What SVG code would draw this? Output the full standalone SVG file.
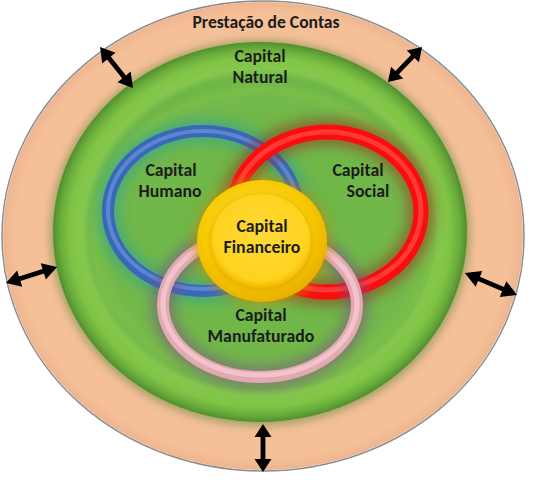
<svg xmlns="http://www.w3.org/2000/svg" width="533" height="484" viewBox="0 0 533 484">
<defs>
<style>
.t{font-family:Carlito,Calibri,"Liberation Sans",Arial,sans-serif;font-weight:bold;font-size:17.8px;fill:#1c1c1c;text-anchor:middle}
.arr{fill:#000}
</style>
<filter id="b2" x="-20%" y="-20%" width="140%" height="140%"><feGaussianBlur stdDeviation="2"/></filter>
<filter id="b4" x="-20%" y="-20%" width="140%" height="140%"><feGaussianBlur stdDeviation="4"/></filter>
<filter id="b6" x="-30%" y="-30%" width="160%" height="160%"><feGaussianBlur stdDeviation="6"/></filter>
<radialGradient id="peach" cx="0.5" cy="0.5" r="0.5">
<stop offset="0" stop-color="#f6c29c"/>
<stop offset="0.95" stop-color="#f5bf98"/>
<stop offset="1" stop-color="#eeb690"/>
</radialGradient>
<radialGradient id="green" cx="0.5" cy="0.5" r="0.5">
<stop offset="0" stop-color="#6db447"/>
<stop offset="0.82" stop-color="#70b749"/>
<stop offset="0.86" stop-color="#86c74d"/>
<stop offset="0.92" stop-color="#80c445"/>
<stop offset="0.965" stop-color="#6aac3c"/>
<stop offset="1" stop-color="#4f8f2d"/>
</radialGradient>
<radialGradient id="inner" cx="0.5" cy="0.5" r="0.5">
<stop offset="0" stop-color="#6cb447"/>
<stop offset="0.9" stop-color="#72b84b"/>
<stop offset="1" stop-color="#7cbf4a"/>
</radialGradient>
<radialGradient id="gold" cx="0.45" cy="0.4" r="0.6">
<stop offset="0" stop-color="#ffe04a"/>
<stop offset="0.7" stop-color="#f7c900"/>
<stop offset="1" stop-color="#e9b000"/>
</radialGradient>
<radialGradient id="goldIn" cx="0.5" cy="0.45" r="0.55">
<stop offset="0" stop-color="#ffd93a"/>
<stop offset="0.85" stop-color="#ffd21e"/>
<stop offset="1" stop-color="#f0b800"/>
</radialGradient>
<path id="dbl" class="arr" d="M-26,0 L-12,-8.5 L-12,-2.4 L12,-2.4 L12,-8.5 L26,0 L12,8.5 L12,2.4 L-12,2.4 L-12,8.5 Z"/>
</defs>

<rect width="533" height="484" fill="#fff"/>

<g id="prestacao">
<ellipse cx="263" cy="236" rx="261" ry="235" fill="none" stroke="#8c8c8c" stroke-width="1.5"/>
<ellipse cx="263" cy="236" rx="260" ry="234" fill="url(#peach)"/>
<text class="t" x="266" y="28" style="font-size:17.6px">Prestação de Contas</text>
</g>

<g id="natural">
<ellipse cx="260" cy="233" rx="210" ry="193" fill="#3f7a25" opacity="0.45" filter="url(#b4)"/>
<ellipse cx="260" cy="232" rx="207" ry="190" fill="url(#green)"/>
<ellipse cx="262" cy="236" rx="172" ry="150" fill="url(#inner)" filter="url(#b2)"/>
<text class="t" x="260" y="62">Capital</text>
<text class="t" x="260" y="83">Natural</text>
</g>

<g id="humano">
<ellipse cx="203" cy="211" rx="95" ry="80" fill="none" stroke="#2aa39a" stroke-width="24" opacity="0.55" filter="url(#b6)"/>
<ellipse cx="203" cy="211" rx="95" ry="80" fill="none" stroke="#3a68b8" stroke-width="12"/>
<ellipse cx="203" cy="210" rx="95" ry="79" fill="none" stroke="#5b86d0" stroke-width="4"/>
<text class="t" x="171" y="176">Capital</text>
<text class="t" x="170" y="197">Humano</text>
</g>

<g id="social">
<ellipse cx="327" cy="212" rx="94" ry="80" fill="none" stroke="#9a2a1a" stroke-width="28" opacity="0.5" filter="url(#b6)"/>
<ellipse cx="327" cy="212" rx="94" ry="80" fill="none" stroke="#fb0d0d" stroke-width="15"/>
<ellipse cx="327" cy="211" rx="94" ry="79" fill="none" stroke="#ff3838" stroke-width="5"/>
<text class="t" x="358" y="176">Capital</text>
<text class="t" x="368" y="197">Social</text>
</g>

<g id="manufaturado">
<ellipse cx="260" cy="305" rx="97" ry="72" fill="none" stroke="#7a4f86" stroke-width="24" opacity="0.5" filter="url(#b6)"/>
<ellipse cx="260" cy="305" rx="97" ry="72" fill="none" stroke="#e3a9b3" stroke-width="12"/>
<ellipse cx="260" cy="304" rx="97" ry="71" fill="none" stroke="#f2c3ca" stroke-width="5"/>
<text class="t" x="261" y="321">Capital</text>
<text class="t" x="261" y="342">Manufaturado</text>
</g>

<g id="financeiro">
<ellipse cx="262" cy="241" rx="68" ry="64" fill="#c98a00" opacity="0.6" filter="url(#b6)"/>
<ellipse cx="262" cy="241" rx="65" ry="61" fill="url(#gold)"/>
<ellipse cx="261" cy="242" rx="51" ry="48" fill="#d99e00" opacity="0.6" filter="url(#b2)"/>
<ellipse cx="261" cy="241" rx="50" ry="47" fill="url(#goldIn)"/>
<text class="t" x="262" y="232">Capital</text>
<text class="t" x="262" y="253">Financeiro</text>
</g>

<g id="connectors">
<use href="#dbl" transform="translate(116.5,67.5) rotate(51.2) scale(1.01,1)"/>
<use href="#dbl" transform="translate(405,64.5) rotate(-45.8) scale(0.94,1)"/>
<use href="#dbl" transform="translate(31.5,275) rotate(-17.4) scale(1.03,1)"/>
<use href="#dbl" transform="translate(491,284) rotate(22.9) scale(1.09,1)"/>
<use href="#dbl" transform="translate(263,448) rotate(90) scale(0.92,1)"/>
</g>
</svg>
